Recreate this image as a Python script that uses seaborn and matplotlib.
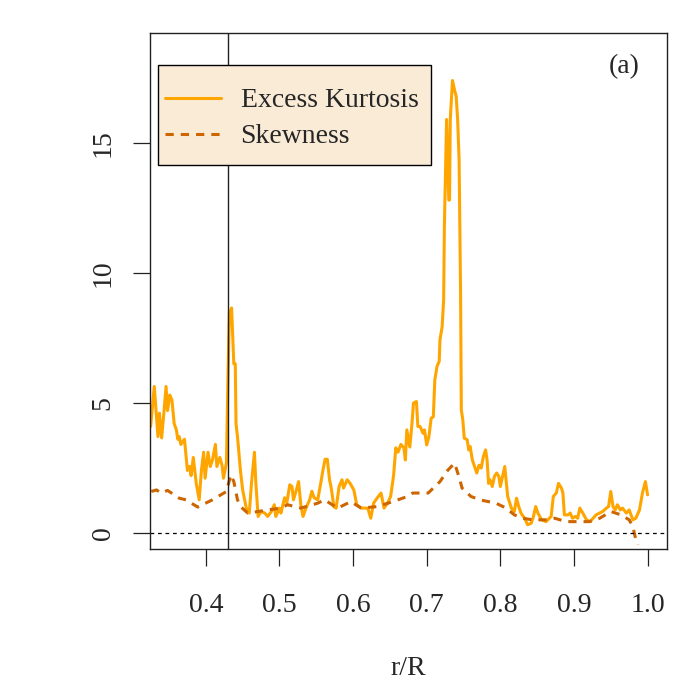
import matplotlib
matplotlib.use("Agg")
import numpy as np
import pandas as pd
import seaborn as sns
import matplotlib.pyplot as plt
from matplotlib.patches import Rectangle

# ----------------------------
# Data
# ----------------------------
kurt_r = [0.325, 0.330, 0.335, 0.337, 0.340, 0.343, 0.346, 0.348, 0.351, 0.354,
          0.357, 0.360, 0.362, 0.364, 0.366, 0.371, 0.375, 0.378, 0.380, 0.383,
          0.387, 0.391, 0.394, 0.397, 0.399, 0.403, 0.406, 0.409, 0.413, 0.415,
          0.419, 0.422, 0.424, 0.428, 0.430, 0.432, 0.435, 0.438, 0.440, 0.441,
          0.443, 0.447, 0.450, 0.455, 0.459, 0.462, 0.466, 0.468, 0.471, 0.475,
          0.480, 0.484, 0.489, 0.493, 0.495, 0.500, 0.502, 0.507, 0.510, 0.514,
          0.517, 0.519, 0.523, 0.526, 0.529, 0.532, 0.536, 0.541, 0.544, 0.547,
          0.552, 0.556, 0.559, 0.562, 0.565, 0.568, 0.570, 0.574, 0.577, 0.581,
          0.585, 0.587, 0.592, 0.596, 0.601, 0.605, 0.611, 0.615, 0.620, 0.624,
          0.628, 0.633, 0.638, 0.642, 0.647, 0.651, 0.655, 0.658, 0.661, 0.665,
          0.669, 0.671, 0.673, 0.677, 0.680, 0.682, 0.686, 0.688, 0.691, 0.695,
          0.697, 0.700, 0.703, 0.706, 0.709, 0.711, 0.714, 0.717, 0.718, 0.721,
          0.723, 0.724, 0.727, 0.728, 0.730, 0.731, 0.732, 0.735, 0.738, 0.740,
          0.742, 0.744, 0.746, 0.747, 0.749, 0.751, 0.755, 0.757, 0.759, 0.762,
          0.765, 0.768, 0.771, 0.774, 0.777, 0.780, 0.782, 0.784, 0.786, 0.789,
          0.792, 0.795, 0.798, 0.800, 0.803, 0.806, 0.808, 0.810, 0.815, 0.819,
          0.822, 0.825, 0.828, 0.833, 0.837, 0.842, 0.845, 0.848, 0.851, 0.856,
          0.862, 0.869, 0.872, 0.876, 0.879, 0.883, 0.885, 0.887, 0.892, 0.895,
          0.898, 0.902, 0.905, 0.908, 0.912, 0.917, 0.922, 0.926, 0.930, 0.935,
          0.939, 0.944, 0.947, 0.950, 0.953, 0.956, 0.959, 0.963, 0.966, 0.971,
          0.975, 0.980, 0.984, 0.989, 0.993, 0.997, 1.000]
kurt_val = [4.09, 5.63, 3.70, 4.60, 3.65, 4.60, 5.63, 4.70, 5.30, 5.10,
            4.20, 3.96, 3.60, 3.70, 3.40, 3.60, 2.40, 2.55, 2.20, 2.90,
            1.90, 1.27, 2.40, 3.10, 2.10, 3.10, 2.55, 2.80, 3.40, 2.55,
            2.90, 2.60, 2.10, 2.70, 5.90, 8.45, 8.65, 6.50, 6.50, 4.20,
            3.70, 2.40, 1.65, 0.95, 0.76, 1.90, 3.10, 1.90, 0.63, 0.82,
            0.76, 0.63, 0.82, 1.08, 0.63, 0.95, 0.76, 1.35, 1.15, 1.85,
            1.78, 1.27, 1.65, 1.97, 1.08, 0.63, 0.95, 1.27, 1.60, 1.35,
            1.27, 1.90, 2.40, 2.83, 2.83, 2.04, 1.78, 1.00, 0.95, 1.78,
            2.04, 1.72, 2.04, 1.90, 1.65, 1.08, 0.95, 0.95, 0.95, 0.56,
            1.15, 1.35, 1.53, 0.95, 1.15, 1.40, 2.20, 3.27, 3.10, 3.40,
            3.27, 2.80, 3.96, 3.30, 4.20, 4.99, 5.05, 4.09, 4.09, 3.83,
            3.96, 3.38, 3.70, 4.40, 4.47, 5.88, 6.40, 6.60, 7.42, 7.94,
            8.96, 11.78, 15.90, 14.86, 12.80, 12.80, 15.90, 17.40, 17.00, 16.80,
            15.90, 14.35, 9.20, 4.73, 4.35, 3.64, 3.58, 3.19, 3.32, 2.80,
            2.55, 2.30, 2.60, 2.49, 2.94, 3.19, 2.80, 1.90, 2.04, 1.78,
            2.17, 2.30, 2.17, 1.78, 2.17, 2.55, 1.97, 1.40, 0.95, 0.82,
            1.33, 1.01, 0.76, 0.56, 0.31, 0.37, 0.63, 1.01, 0.76, 0.50,
            0.43, 0.63, 1.40, 1.53, 1.90, 1.72, 1.53, 0.69, 0.69, 0.76,
            0.56, 0.63, 0.56, 0.95, 0.76, 0.50, 0.43, 0.56, 0.69, 0.76,
            0.82, 0.95, 1.01, 1.59, 1.01, 0.88, 1.08, 0.88, 0.95, 0.76,
            0.88, 0.50, 0.56, 0.88, 1.53, 1.97, 1.46]

skew_r = [0.326, 0.333, 0.339, 0.348, 0.364, 0.373, 0.389, 0.409, 0.428, 0.434,
          0.438, 0.443, 0.447, 0.457, 0.471, 0.484, 0.502, 0.511, 0.529, 0.552,
          0.561, 0.579, 0.597, 0.611, 0.633, 0.654, 0.674, 0.681, 0.702, 0.718,
          0.729, 0.738, 0.745, 0.748, 0.760, 0.772, 0.794, 0.808, 0.819, 0.830,
          0.844, 0.864, 0.874, 0.889, 0.903, 0.921, 0.935, 0.950, 0.964, 0.975,
          0.980, 0.983, 0.987]
skew_val = [1.59, 1.65, 1.53, 1.63, 1.33, 1.27, 0.99, 1.27, 1.59, 2.23,
            1.97, 1.27, 1.01, 0.76, 0.82, 0.88, 0.95, 1.08, 0.95, 1.14,
            1.27, 0.95, 1.20, 0.95, 1.01, 1.20, 1.40, 1.53, 1.53, 1.97,
            2.42, 2.68, 2.04, 1.72, 1.40, 1.27, 1.14, 0.95, 0.69, 0.56,
            0.50, 0.50, 0.56, 0.43, 0.43, 0.43, 0.56, 0.82, 0.69, 0.50,
            0.24, -0.14, -0.46]

marker_r = 0.43
x_ticks = [0.4, 0.5, 0.6, 0.7, 0.8, 0.9, 1.0]
y_ticks = [0, 5, 10, 15]

kurt_df = pd.DataFrame({"r": kurt_r, "value": kurt_val})
skew_df = pd.DataFrame({"r": skew_r, "value": skew_val})

# ----------------------------
# Style
# ----------------------------
sns.set_theme(style="white")
plt.rcParams["font.family"] = ["Liberation Serif", "DejaVu Serif"]
plt.rcParams["axes.edgecolor"] = "#222222"
plt.rcParams["axes.linewidth"] = 1.0

fig = plt.figure(figsize=(7, 7), dpi=100)
ax = fig.add_axes([0.214, 0.216, 0.739, 0.737])

sns.lineplot(data=kurt_df, x="r", y="value", ax=ax, color="#FFA500",
             linewidth=2.2, sort=False, estimator=None, label="Excess Kurtosis")
sns.lineplot(data=skew_df, x="r", y="value", ax=ax, color="#CD6600",
             linewidth=2.2, sort=False, estimator=None, label="Skewness",
             linestyle=(0, (2.7, 2.3)))

ax.axhline(0, color="black", linewidth=0.9, linestyle=(0, (3, 3)))
ax.axvline(marker_r, color="#222222", linewidth=1.0)

ax.set_xlim(0.3239, 1.0265)
ax.set_ylim(-0.615, 19.23)
ax.set_xticks(x_ticks)
ax.set_xticklabels([f"{t:.1f}" for t in x_ticks])
ax.set_yticks(y_ticks)
ax.set_yticklabels([str(t) for t in y_ticks], rotation=90, va="center")
ax.tick_params(axis="both", direction="out", length=12.5, width=0.9,
               color="#222222", labelsize=20, bottom=True, left=True)
ax.tick_params(axis="x", pad=19)
ax.tick_params(axis="y", pad=12)
ax.set_xlabel("r/R", fontsize=20, labelpad=28)
ax.set_ylabel("")

ax.text(0.918, 0.935, "(a)", transform=ax.transAxes, fontsize=20,
        ha="center", va="center")

# Legend box
ax.add_patch(Rectangle((0.0155, 0.744), 0.528, 0.194, transform=ax.transAxes,
                       facecolor="#FAEBD7", edgecolor="black", linewidth=1.0,
                       zorder=4))
leg = ax.legend(loc="upper left", bbox_to_anchor=(0.008, 0.915), frameon=False,
                fontsize=20, handlelength=2.0, handletextpad=0.72,
                labelspacing=0.38, borderaxespad=0)
leg.set_zorder(5)

fig.savefig("out.png", dpi=100)
